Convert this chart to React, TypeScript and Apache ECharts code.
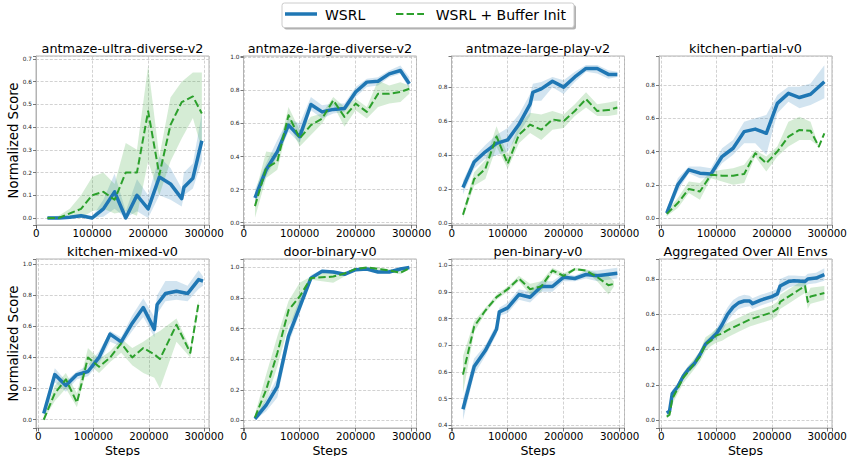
import React, { useEffect, useRef } from 'react';
import * as echarts from 'echarts';

// ---------- text ----------
const panelTitles = [
  'antmaze-ultra-diverse-v2', 'antmaze-large-diverse-v2', 'antmaze-large-play-v2', 'kitchen-partial-v0',
  'kitchen-mixed-v0', 'door-binary-v0', 'pen-binary-v0', 'Aggregated Over All Envs',
];
const seriesNames = ['WSRL', 'WSRL + Buffer Init'];
const yAxisTitle = 'Normalized Score';
const xAxisTitle = 'Steps';
const xTickStep = 100000;
const yTickSteps = [0.1, 0.2, 0.2, 0.2, 0.2, 0.2, 0.1, 0.2];

// ---------- antmaze-ultra-diverse-v2 ----------
const ultraWsrlSteps = [20000, 40000, 60000, 80000, 100000, 120000, 140000, 160000, 180000, 200000, 220000, 240000, 260000, 264000, 280000, 296000];
const ultraWsrlMean = [0.0, 0.0, 0.003, 0.01, 0.0, 0.04, 0.115, 0.0, 0.1, 0.04, 0.18, 0.15, 0.085, 0.135, 0.175, 0.34];
const ultraWsrlLow = [0.0, 0.0, 0.0, 0.003, 0.0, 0.005, 0.04, 0.0, 0.03, 0.0, 0.1, 0.08, 0.05, 0.1, 0.13, 0.25];
const ultraWsrlHigh = [0.005, 0.005, 0.008, 0.018, 0.005, 0.08, 0.195, 0.03, 0.17, 0.1, 0.27, 0.22, 0.13, 0.2, 0.24, 0.46];
const ultraBufSteps = [20000, 40000, 60000, 80000, 100000, 120000, 140000, 160000, 180000, 200000, 220000, 240000, 260000, 280000, 296000];
const ultraBufMean = [0.0, 0.0, 0.02, 0.04, 0.1, 0.115, 0.08, 0.2, 0.2, 0.47, 0.19, 0.41, 0.51, 0.535, 0.46];
const ultraBufLow = [0.0, 0.0, 0.0, 0.0, 0.03, 0.04, 0.02, 0.03, 0.01, 0.25, 0.1, 0.25, 0.35, 0.44, 0.3];
const ultraBufHigh = [0.005, 0.01, 0.04, 0.1, 0.18, 0.2, 0.15, 0.33, 0.3, 0.67, 0.27, 0.53, 0.6, 0.64, 0.64];

// ---------- antmaze-large-diverse-v2 ----------
const ldSteps = [20000, 40000, 60000, 80000, 100000, 120000, 140000, 160000, 180000, 200000, 220000, 240000, 260000, 280000, 296000];
const ldWsrlMean = [0.15, 0.32, 0.43, 0.59, 0.52, 0.715, 0.67, 0.685, 0.69, 0.79, 0.85, 0.855, 0.9, 0.92, 0.84];
const ldWsrlLow = [0.11, 0.28, 0.4, 0.55, 0.48, 0.68, 0.63, 0.66, 0.67, 0.76, 0.82, 0.83, 0.88, 0.9, 0.81];
const ldWsrlHigh = [0.2, 0.36, 0.5, 0.63, 0.6, 0.76, 0.71, 0.72, 0.72, 0.82, 0.87, 0.88, 0.92, 0.95, 0.88];
const ldBufMean = [0.1, 0.33, 0.37, 0.65, 0.51, 0.59, 0.63, 0.74, 0.64, 0.72, 0.67, 0.78, 0.78, 0.79, 0.81];
const ldBufLow = [0.03, 0.27, 0.32, 0.6, 0.46, 0.53, 0.6, 0.71, 0.58, 0.68, 0.63, 0.7, 0.72, 0.73, 0.78];
const ldBufHigh = [0.17, 0.43, 0.42, 0.7, 0.56, 0.64, 0.66, 0.76, 0.7, 0.75, 0.7, 0.86, 0.83, 0.85, 0.83];

// ---------- antmaze-large-play-v2 ----------
const lpWsrlSteps = [20000, 40000, 60000, 80000, 100000, 120000, 140000, 145000, 160000, 180000, 200000, 220000, 240000, 260000, 280000, 296000];
const lpWsrlMean = [0.21, 0.36, 0.42, 0.47, 0.49, 0.58, 0.7, 0.77, 0.79, 0.835, 0.8, 0.86, 0.91, 0.91, 0.875, 0.875];
const lpWsrlLow = [0.17, 0.32, 0.38, 0.4, 0.42, 0.53, 0.63, 0.72, 0.72, 0.8, 0.76, 0.83, 0.89, 0.88, 0.85, 0.86];
const lpWsrlHigh = [0.25, 0.39, 0.46, 0.52, 0.56, 0.64, 0.76, 0.82, 0.83, 0.86, 0.84, 0.89, 0.93, 0.93, 0.9, 0.89];
const lpBufSteps = [20000, 40000, 60000, 80000, 100000, 120000, 140000, 160000, 180000, 200000, 220000, 240000, 260000, 280000, 296000];
const lpBufMean = [0.05, 0.26, 0.32, 0.51, 0.35, 0.52, 0.58, 0.55, 0.61, 0.6, 0.66, 0.73, 0.66, 0.665, 0.68];
const lpBufLow = [0.03, 0.22, 0.26, 0.45, 0.32, 0.47, 0.53, 0.49, 0.55, 0.56, 0.63, 0.68, 0.63, 0.63, 0.64];
const lpBufHigh = [0.07, 0.3, 0.37, 0.57, 0.4, 0.58, 0.65, 0.64, 0.66, 0.64, 0.7, 0.77, 0.7, 0.71, 0.72];

// ---------- kitchen-partial-v0 ----------
const kpWsrlSteps = [10000, 30000, 50000, 70000, 90000, 110000, 130000, 150000, 170000, 190000, 210000, 230000, 250000, 270000, 295000];
const kpWsrlMean = [0.03, 0.2, 0.29, 0.27, 0.265, 0.37, 0.42, 0.52, 0.535, 0.51, 0.69, 0.75, 0.725, 0.745, 0.82];
const kpWsrlLow = [0.01, 0.16, 0.27, 0.24, 0.24, 0.33, 0.38, 0.45, 0.45, 0.38, 0.63, 0.7, 0.66, 0.68, 0.72];
const kpWsrlHigh = [0.05, 0.24, 0.31, 0.31, 0.3, 0.42, 0.47, 0.58, 0.6, 0.62, 0.74, 0.79, 0.79, 0.81, 0.92];
const kpBufSteps = [10000, 30000, 50000, 70000, 90000, 110000, 130000, 150000, 170000, 190000, 210000, 230000, 250000, 270000, 285000, 295000];
const kpBufMean = [0.025, 0.09, 0.175, 0.16, 0.26, 0.255, 0.255, 0.265, 0.39, 0.33, 0.4, 0.49, 0.53, 0.525, 0.43, 0.51];
const kpBufLow = [0.01, 0.06, 0.15, 0.11, 0.24, 0.22, 0.2, 0.21, 0.37, 0.28, 0.37, 0.43, 0.47, 0.47, 0.43, 0.51];
const kpBufHigh = [0.04, 0.12, 0.22, 0.21, 0.28, 0.29, 0.3, 0.32, 0.41, 0.37, 0.43, 0.58, 0.61, 0.58, 0.43, 0.51];

// ---------- kitchen-mixed-v0 ----------
const kmWsrlSteps = [10000, 30000, 50000, 70000, 90000, 110000, 130000, 150000, 170000, 190000, 210000, 215000, 230000, 250000, 270000, 290000, 298000];
const kmWsrlMean = [0.04, 0.29, 0.22, 0.29, 0.31, 0.4, 0.55, 0.5, 0.62, 0.72, 0.58, 0.74, 0.81, 0.825, 0.81, 0.9, 0.89];
const kmWsrlLow = [0.02, 0.24, 0.18, 0.26, 0.28, 0.36, 0.5, 0.47, 0.57, 0.66, 0.53, 0.68, 0.76, 0.77, 0.76, 0.84, 0.86];
const kmWsrlHigh = [0.06, 0.33, 0.25, 0.31, 0.35, 0.44, 0.57, 0.53, 0.67, 0.78, 0.66, 0.8, 0.89, 0.89, 0.86, 0.96, 0.92];
const kmBufSteps = [10000, 30000, 50000, 70000, 90000, 110000, 130000, 150000, 170000, 190000, 210000, 220000, 250000, 275000, 290000];
const kmBufMean = [0.0, 0.17, 0.26, 0.11, 0.4, 0.34, 0.4, 0.49, 0.4, 0.46, 0.42, 0.39, 0.61, 0.43, 0.75];
const kmBufLow = [0.0, 0.12, 0.2, 0.08, 0.36, 0.3, 0.37, 0.43, 0.35, 0.3, 0.27, 0.2, 0.5, 0.4, 0.73];
const kmBufHigh = [0.02, 0.22, 0.3, 0.17, 0.46, 0.39, 0.44, 0.52, 0.46, 0.5, 0.55, 0.57, 0.65, 0.46, 0.77];

// ---------- door-binary-v0 ----------
const doorSteps = [20000, 40000, 60000, 80000, 100000, 120000, 140000, 160000, 180000, 200000, 220000, 240000, 260000, 280000, 296000];
const doorWsrlMean = [0.01, 0.1, 0.22, 0.55, 0.74, 0.93, 0.975, 0.97, 0.955, 0.985, 0.99, 0.97, 0.97, 0.99, 1.0];
const doorWsrlLow = [0.0, 0.06, 0.15, 0.5, 0.7, 0.92, 0.965, 0.96, 0.945, 0.98, 0.985, 0.96, 0.96, 0.98, 0.995];
const doorWsrlHigh = [0.02, 0.14, 0.28, 0.6, 0.8, 0.95, 0.985, 0.98, 0.965, 0.99, 0.995, 0.98, 0.98, 1.0, 1.005];
const doorBufMean = [0.02, 0.2, 0.44, 0.72, 0.81, 0.93, 0.935, 0.94, 0.96, 0.99, 1.0, 0.99, 0.98, 0.965, 0.995];
const doorBufLow = [0.0, 0.13, 0.35, 0.62, 0.72, 0.92, 0.91, 0.9, 0.94, 0.985, 0.995, 0.98, 0.97, 0.955, 0.99];
const doorBufHigh = [0.04, 0.3, 0.55, 0.78, 0.9, 0.94, 0.97, 0.97, 0.97, 0.995, 1.005, 1.0, 0.99, 0.975, 1.0];

// ---------- pen-binary-v0 ----------
const penWsrlSteps = [20000, 40000, 60000, 80000, 85000, 100000, 120000, 140000, 160000, 180000, 200000, 220000, 240000, 260000, 296000];
const penWsrlMean = [0.46, 0.62, 0.68, 0.76, 0.825, 0.84, 0.89, 0.88, 0.92, 0.92, 0.955, 0.95, 0.965, 0.96, 0.97];
const penWsrlLow = [0.42, 0.59, 0.66, 0.74, 0.81, 0.82, 0.87, 0.86, 0.9, 0.9, 0.94, 0.94, 0.95, 0.94, 0.95];
const penWsrlHigh = [0.5, 0.65, 0.7, 0.78, 0.84, 0.86, 0.91, 0.9, 0.94, 0.94, 0.97, 0.96, 0.98, 0.98, 0.99];
const penBufSteps = [20000, 40000, 60000, 80000, 100000, 120000, 140000, 160000, 180000, 200000, 220000, 240000, 260000, 280000, 290000];
const penBufMean = [0.59, 0.77, 0.83, 0.88, 0.91, 0.95, 0.91, 0.92, 0.98, 0.96, 0.985, 0.98, 0.955, 0.925, 0.93];
const penBufLow = [0.52, 0.75, 0.82, 0.87, 0.9, 0.94, 0.89, 0.9, 0.97, 0.95, 0.98, 0.975, 0.94, 0.89, 0.92];
const penBufHigh = [0.66, 0.79, 0.84, 0.89, 0.92, 0.96, 0.93, 0.94, 0.99, 0.97, 0.99, 0.985, 0.97, 0.96, 0.94];

// ---------- Aggregated Over All Envs ----------
const aggWsrlSteps = [10000, 15000, 20000, 30000, 40000, 50000, 60000, 70000, 80000, 90000, 100000, 110000, 120000, 130000, 140000, 150000, 160000, 165000, 180000, 200000, 210000, 215000, 230000, 240000, 260000, 265000, 280000, 295000];
const aggWsrlMean = [0.04, 0.05, 0.15, 0.19, 0.25, 0.29, 0.32, 0.37, 0.43, 0.46, 0.49, 0.54, 0.6, 0.64, 0.665, 0.675, 0.675, 0.66, 0.68, 0.7, 0.715, 0.76, 0.785, 0.79, 0.785, 0.8, 0.805, 0.825];
const aggWsrlLow = [0.03, 0.04, 0.13, 0.17, 0.23, 0.27, 0.3, 0.35, 0.41, 0.44, 0.46, 0.5, 0.56, 0.6, 0.63, 0.64, 0.645, 0.63, 0.65, 0.67, 0.685, 0.72, 0.75, 0.76, 0.755, 0.77, 0.775, 0.79];
const aggWsrlHigh = [0.05, 0.06, 0.17, 0.21, 0.27, 0.31, 0.34, 0.39, 0.45, 0.48, 0.52, 0.58, 0.64, 0.68, 0.7, 0.71, 0.705, 0.69, 0.71, 0.73, 0.745, 0.8, 0.82, 0.82, 0.815, 0.83, 0.835, 0.86];
const aggBufSteps = [10000, 15000, 20000, 30000, 40000, 50000, 60000, 70000, 80000, 90000, 100000, 110000, 120000, 140000, 160000, 180000, 200000, 210000, 215000, 230000, 250000, 260000, 265000, 270000, 295000];
const aggBufMean = [0.02, 0.03, 0.12, 0.18, 0.24, 0.28, 0.32, 0.36, 0.43, 0.45, 0.48, 0.49, 0.51, 0.54, 0.57, 0.59, 0.61, 0.63, 0.67, 0.7, 0.74, 0.76, 0.67, 0.7, 0.72];
const aggBufLow = [0.01, 0.02, 0.09, 0.15, 0.21, 0.25, 0.29, 0.33, 0.39, 0.42, 0.44, 0.45, 0.47, 0.5, 0.53, 0.55, 0.57, 0.59, 0.63, 0.66, 0.7, 0.72, 0.63, 0.66, 0.68];
const aggBufHigh = [0.03, 0.04, 0.15, 0.21, 0.27, 0.31, 0.35, 0.39, 0.47, 0.49, 0.52, 0.53, 0.55, 0.58, 0.61, 0.63, 0.65, 0.67, 0.71, 0.74, 0.78, 0.8, 0.72, 0.75, 0.76];

// ---------- axis ranges ----------
const xRanges = [
  [-500, 308800], [-500, 308800], [-500, 308800], [-4000, 308800],
  [-4000, 308800], [-500, 308800], [-500, 308800], [-4000, 308800],
];
const yRanges = [
  [-0.031, 0.713], [-0.014, 1.008], [-0.01, 0.983], [-0.042, 0.975],
  [-0.053, 1.032], [-0.05, 1.055], [0.39, 1.023], [-0.045, 0.913],
];

type Curve = { steps: number[]; mean: number[]; low: number[]; high: number[] };
const curve = (steps: number[], mean: number[], low: number[], high: number[]): Curve => ({ steps, mean, low, high });

const panelCurves: [Curve, Curve][] = [
  [curve(ultraWsrlSteps, ultraWsrlMean, ultraWsrlLow, ultraWsrlHigh), curve(ultraBufSteps, ultraBufMean, ultraBufLow, ultraBufHigh)],
  [curve(ldSteps, ldWsrlMean, ldWsrlLow, ldWsrlHigh), curve(ldSteps, ldBufMean, ldBufLow, ldBufHigh)],
  [curve(lpWsrlSteps, lpWsrlMean, lpWsrlLow, lpWsrlHigh), curve(lpBufSteps, lpBufMean, lpBufLow, lpBufHigh)],
  [curve(kpWsrlSteps, kpWsrlMean, kpWsrlLow, kpWsrlHigh), curve(kpBufSteps, kpBufMean, kpBufLow, kpBufHigh)],
  [curve(kmWsrlSteps, kmWsrlMean, kmWsrlLow, kmWsrlHigh), curve(kmBufSteps, kmBufMean, kmBufLow, kmBufHigh)],
  [curve(doorSteps, doorWsrlMean, doorWsrlLow, doorWsrlHigh), curve(doorSteps, doorBufMean, doorBufLow, doorBufHigh)],
  [curve(penWsrlSteps, penWsrlMean, penWsrlLow, penWsrlHigh), curve(penBufSteps, penBufMean, penBufLow, penBufHigh)],
  [curve(aggWsrlSteps, aggWsrlMean, aggWsrlLow, aggWsrlHigh), curve(aggBufSteps, aggBufMean, aggBufLow, aggBufHigh)],
];

// ---------- style / layout ----------
const FONT = '"DejaVu Sans", "Liberation Sans", sans-serif';
const BLUE = '#1f77b4';
const GREEN = '#2ca02c';
const BLUE_BAND = 'rgba(31,119,180,0.2)';
const GREEN_BAND = 'rgba(44,160,44,0.2)';
const SPINE = '#b3b3b3';
const GRID_LEFTS = [36, 243.5, 451.5, 659];
const GRID_TOPS = [56, 259];
const GRID_W = 173;
const GRID_H = 169;

const isTick = (v: number, step: number) => Math.abs(v / step - Math.round(v / step)) < 1e-6;

const bandRenderer = (fill: string) => (params: any, api: any) => {
  if (params.dataIndexInside !== 0) return null;
  const n = params.dataInsideLength;
  const upper: number[][] = [];
  const lower: number[][] = [];
  for (let k = 0; k < n; k++) {
    const x = api.value(0, k);
    upper.push(api.coord([x, api.value(2, k)]));
    lower.push(api.coord([x, api.value(1, k)]));
  }
  return {
    type: 'polygon',
    shape: { points: upper.concat(lower.reverse()) },
    style: { fill, stroke: 'none' },
    silent: true,
  };
};

function buildOption() {
  const grid: any[] = [];
  const xAxis: any[] = [];
  const yAxis: any[] = [];
  const series: any[] = [];
  const graphic: any[] = [];

  panelCurves.forEach(([wsrl, buf], i) => {
    const col = i % 4;
    const row = Math.floor(i / 4);
    const left = GRID_LEFTS[col];
    const top = GRID_TOPS[row];
    const yStep = yTickSteps[i];

    grid.push({
      left, top, width: GRID_W, height: GRID_H,
      show: true, borderColor: SPINE, borderWidth: 1, backgroundColor: '#ffffff',
      containLabel: false, outerBoundsMode: 'none',
    });

    xAxis.push({
      type: 'value', gridIndex: i,
      min: xRanges[i][0], max: xRanges[i][1],
      minInterval: xTickStep, maxInterval: xTickStep, splitNumber: 3,
      axisLine: { show: true, onZero: false, lineStyle: { color: SPINE, width: 1 } },
      axisTick: { show: true, inside: false, length: 3.5, lineStyle: { color: '#555', width: 0.8 } },
      axisLabel: {
        show: true, fontSize: 10.3, fontFamily: FONT, color: '#000', margin: 3,
        formatter: (v: number) => (isTick(v, xTickStep) ? String(Math.round(v)) : ''),
      },
      splitLine: { show: true, lineStyle: { color: '#c6c6c6', width: 0.8, type: [3, 1.6] } },
    });

    yAxis.push({
      type: 'value', gridIndex: i,
      min: yRanges[i][0], max: yRanges[i][1],
      minInterval: yStep, maxInterval: yStep, splitNumber: 5,
      axisLine: { show: true, onZero: false, lineStyle: { color: SPINE, width: 1 } },
      axisTick: { show: true, inside: false, length: 3, lineStyle: { color: '#555', width: 0.8 } },
      axisLabel: {
        show: true, fontSize: 5.8, fontFamily: FONT, color: '#222', margin: 4,
        formatter: (v: number) => (isTick(v, yStep) ? (Math.abs(v) < 1e-9 ? '0.0' : v.toFixed(1)) : ''),
      },
      splitLine: { show: true, lineStyle: { color: '#c6c6c6', width: 0.8, type: [3, 1.6] } },
    });

    const rows = (c: Curve) => c.steps.map((s, k) => [s, c.low[k], c.high[k]]);
    const pts = (c: Curve) => c.steps.map((s, k) => [s, c.mean[k]]);

    series.push({
      type: 'custom', name: seriesNames[0] + ' band', xAxisIndex: i, yAxisIndex: i,
      data: rows(wsrl), encode: { x: 0, y: [1, 2] }, renderItem: bandRenderer(BLUE_BAND),
      silent: true, z: 1,
    });
    series.push({
      type: 'custom', name: seriesNames[1] + ' band', xAxisIndex: i, yAxisIndex: i,
      data: rows(buf), encode: { x: 0, y: [1, 2] }, renderItem: bandRenderer(GREEN_BAND),
      silent: true, z: 1,
    });
    series.push({
      type: 'line', name: seriesNames[0], xAxisIndex: i, yAxisIndex: i,
      data: pts(wsrl), symbol: 'none', showSymbol: false, silent: true, z: 3,
      lineStyle: { color: BLUE, width: 3.5, join: 'round', cap: 'butt' },
    });
    series.push({
      type: 'line', name: seriesNames[1], xAxisIndex: i, yAxisIndex: i,
      data: pts(buf), symbol: 'none', showSymbol: false, silent: true, z: 4,
      lineStyle: { color: GREEN, width: 2, type: [7.4, 3.2], join: 'round', cap: 'butt' },
    });

    // panel title
    graphic.push({
      type: 'text', x: left + GRID_W / 2, y: top - 8, silent: true,
      style: { text: panelTitles[i], font: `12.8px ${FONT}`, fill: '#000', textAlign: 'center', textVerticalAlign: 'middle' },
    });
    if (col === 0) {
      graphic.push({
        type: 'text', x: 13.7, y: top + GRID_H / 2, rotation: Math.PI / 2, silent: true,
        style: { text: yAxisTitle, font: `13.2px ${FONT}`, fill: '#000', textAlign: 'center', textVerticalAlign: 'middle' },
      });
    }
    if (row === 1) {
      graphic.push({
        type: 'text', x: left + GRID_W / 2, y: top + GRID_H + 22, silent: true,
        style: { text: xAxisTitle, font: `12.6px ${FONT}`, fill: '#000', textAlign: 'center', textVerticalAlign: 'middle' },
      });
    }
  });

  // legend (matplotlib style frame with shadow)
  graphic.push(
    { type: 'rect', silent: true, shape: { x: 284, y: 5, width: 292, height: 24.5, r: 2.5 }, style: { fill: 'rgba(0,0,0,0.3)' } },
    { type: 'rect', silent: true, shape: { x: 282, y: 3, width: 292, height: 24.5, r: 2.5 }, style: { fill: '#ffffff', stroke: '#cccccc', lineWidth: 1 } },
    { type: 'line', silent: true, shape: { x1: 285, y1: 14, x2: 317, y2: 14 }, style: { stroke: BLUE, lineWidth: 3.5 } },
    { type: 'text', silent: true, x: 325, y: 15, style: { text: seriesNames[0], font: `14px ${FONT}`, fill: '#000', textAlign: 'left', textVerticalAlign: 'middle' } },
    { type: 'line', silent: true, shape: { x1: 396, y1: 14, x2: 424, y2: 14 }, style: { stroke: GREEN, lineWidth: 2, lineDash: [7.4, 3.2] } },
    { type: 'text', silent: true, x: 435.7, y: 15, style: { text: seriesNames[1], font: `14px ${FONT}`, fill: '#000', textAlign: 'left', textVerticalAlign: 'middle' } },
  );

  return {
    animation: false,
    backgroundColor: '#ffffff',
    textStyle: { fontFamily: FONT },
    grid, xAxis, yAxis, series, graphic,
  };
}

export default function App() {
  const ref = useRef<HTMLDivElement>(null);
  useEffect(() => {
    document.body.style.margin = '0';
    if (!ref.current) return;
    const chart = echarts.init(ref.current, undefined, { renderer: 'svg' });
    chart.setOption(buildOption() as any);
    return () => chart.dispose();
  }, []);
  return <div ref={ref} style={{ width: 847, height: 456 }} />;
}
